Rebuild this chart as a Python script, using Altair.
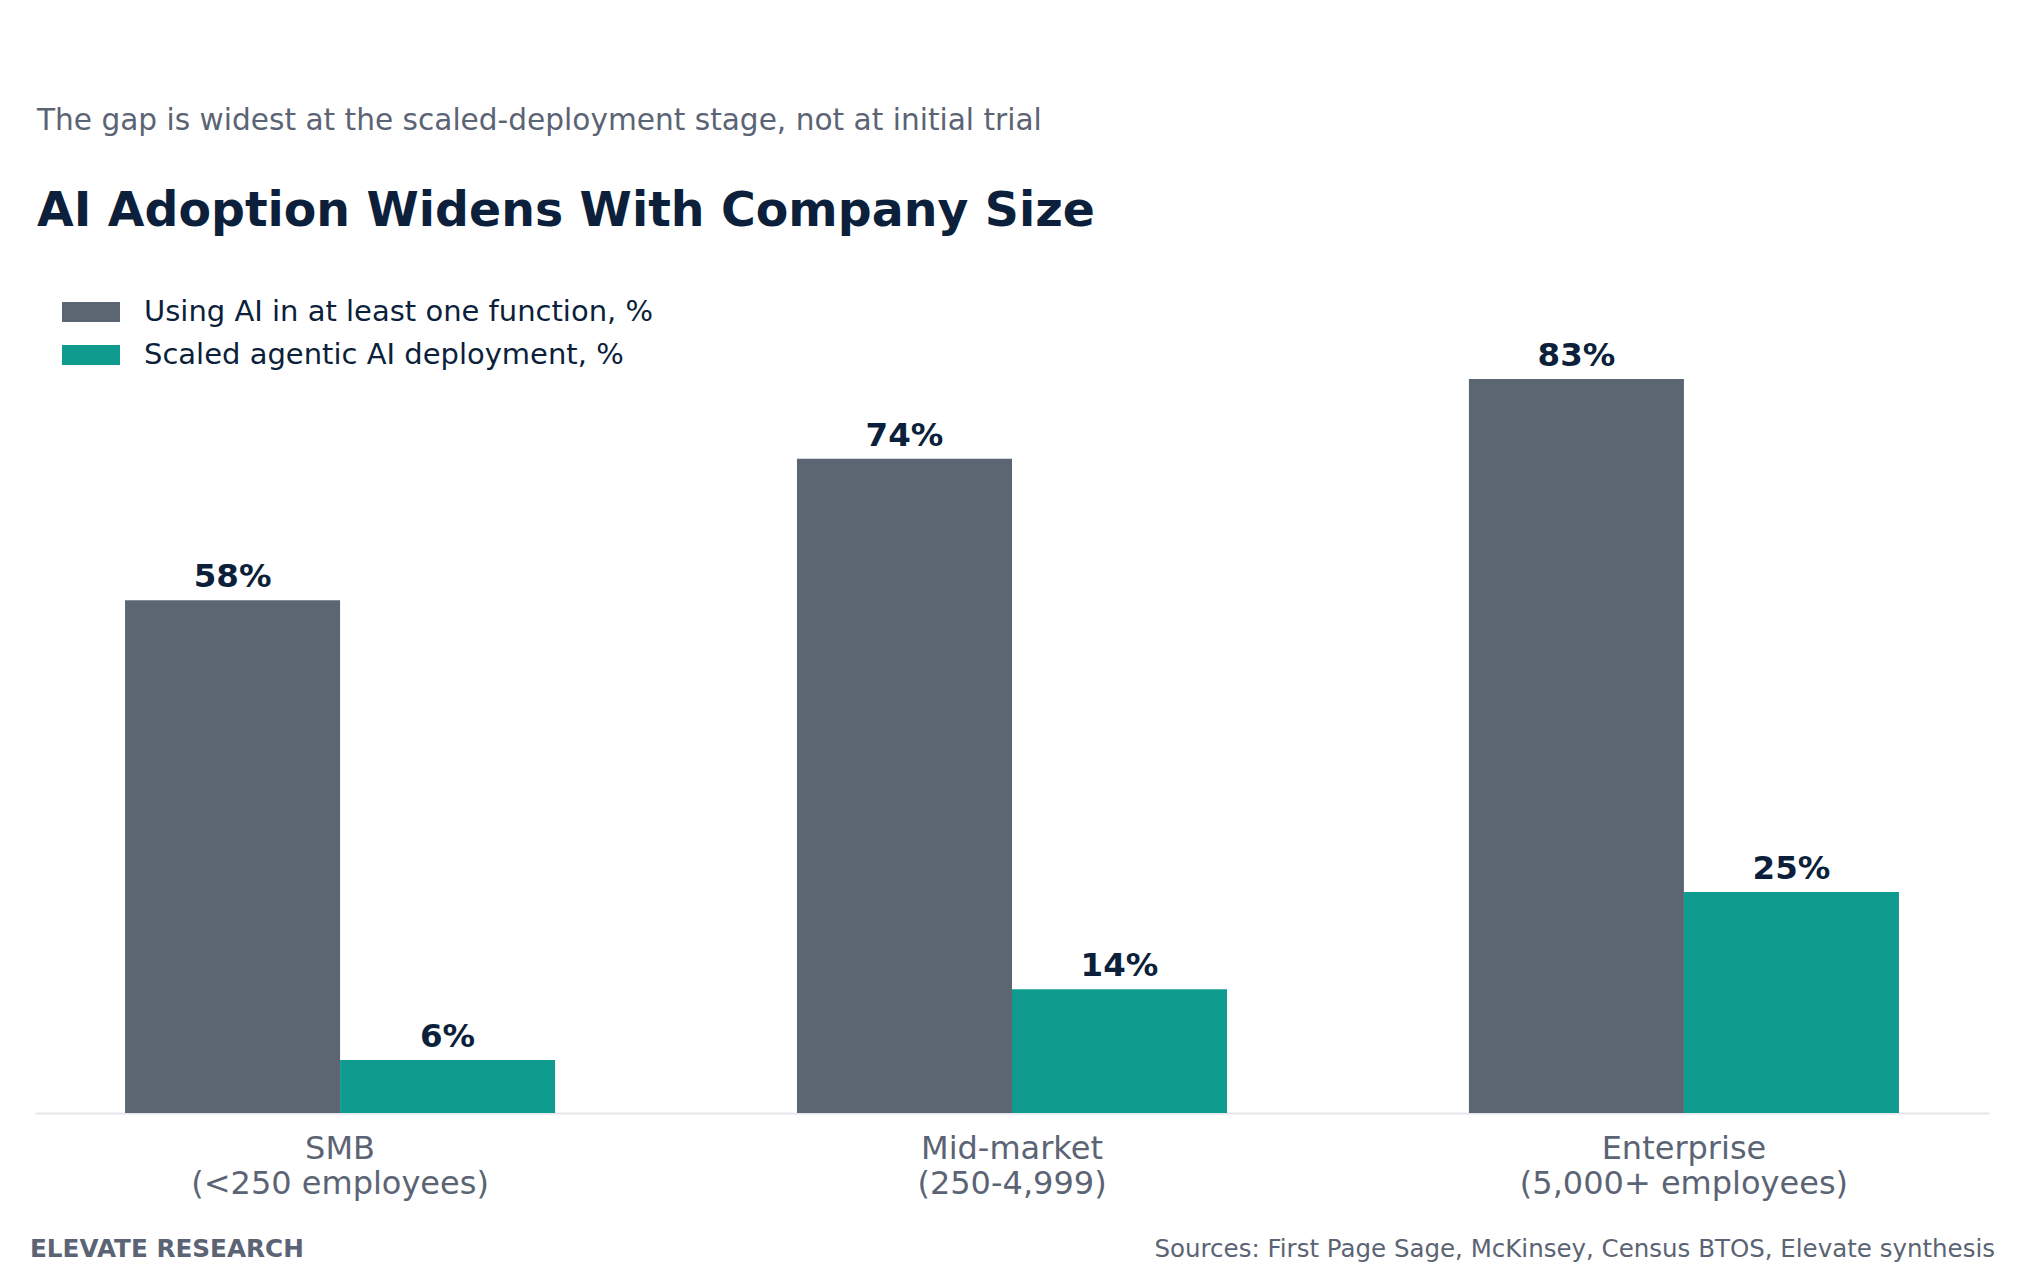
import altair as alt
import pandas as pd

# ---- data ----
segments = ["SMB\n(<250 employees)", "Mid-market\n(250-4,999)", "Enterprise\n(5,000+ employees)"]
series_names = ["Using AI in at least one function, %", "Scaled agentic AI deployment, %"]
using_ai = [58, 74, 83]
scaled_agentic = [6, 14, 25]

subtitle_text = "The gap is widest at the scaled-deployment stage, not at initial trial"
title_text = "AI Adoption Widens With Company Size"
footer_left = "ELEVATE RESEARCH"
footer_right = "Sources: First Page Sage, McKinsey, Census BTOS, Elevate synthesis"

rows = []
for seg, a, b in zip(segments, using_ai, scaled_agentic):
    rows.append({"segment": seg, "series": series_names[0], "value": a, "label": f"{a}%"})
    rows.append({"segment": seg, "series": series_names[1], "value": b, "label": f"{b}%"})
df = pd.DataFrame(rows)

GRAY = "#5c6572"
TEAL = "#0f9c8e"
NAVY = "#0c1f3b"
MUTED = "#5b6474"
FONT = "DejaVu Sans"

base = alt.Chart(df).encode(
    x=alt.X(
        "segment:N",
        sort=segments,
        scale=alt.Scale(paddingInner=0.36, paddingOuter=0.134),
        axis=alt.Axis(
            title=None,
            labelExpr="split(datum.label, '\\n')",
            labelAngle=0,
            labelFont=FONT,
            labelFontSize=32,
            labelColor=MUTED,
            labelLineHeight=35,
            labelPadding=20,
            labelLimit=1000,
            ticks=False,
            domainColor="#e3e7ec",
            domainWidth=2,
        ),
    ),
    xOffset=alt.XOffset("series:N", sort=series_names,
                        scale=alt.Scale(paddingInner=0, paddingOuter=0)),
    y=alt.Y("value:Q", scale=alt.Scale(domain=[0, 95]), axis=None),
)

bars = base.mark_bar().encode(
    color=alt.Color(
        "series:N",
        sort=series_names,
        scale=alt.Scale(domain=series_names, range=[GRAY, TEAL]),
        legend=alt.Legend(
            title=None,
            orient="none",
            legendX=27,
            legendY=24,
            symbolType="M-1,-0.345L1,-0.345L1,0.345L-1,0.345Z",
            symbolSize=3364,
            symbolStrokeWidth=0,
            labelFont=FONT,
            labelFontSize=29,
            labelColor=NAVY,
            labelOffset=24,
            labelLimit=1000,
            clipHeight=30,
            rowPadding=13,
            padding=0,
        ),
    )
)

labels = base.mark_text(
    font=FONT, fontSize=32.5, fontWeight="bold", color=NAVY,
    baseline="alphabetic", dy=-13,
).encode(text="label:N")

foot_l = alt.Chart(pd.DataFrame({"t": [footer_left]})).mark_text(
    font=FONT, fontSize=24.7, fontWeight="bold", color=MUTED, align="left", baseline="alphabetic"
).encode(x=alt.value(-5), y=alt.value(984), text="t:N")

foot_r = alt.Chart(pd.DataFrame({"t": [footer_right]})).mark_text(
    font=FONT, fontSize=24.5, color=MUTED, align="right", baseline="alphabetic"
).encode(x=alt.value(1960), y=alt.value(984), text="t:N")

chart = alt.layer(bars, labels, foot_l, foot_r).properties(
    width=1954,
    height=840,
    padding={"left": 27, "top": 265, "right": 20, "bottom": 157},
    autosize=alt.AutoSizeParams(type="none"),
    background="white",
    title=alt.TitleParams(
        text=subtitle_text,
        subtitle=title_text,
        anchor="start",
        frame="group",
        dx=2,
        font=FONT,
        fontSize=29.6,
        fontWeight="normal",
        color=MUTED,
        subtitleFont=FONT,
        subtitleFontSize=47.4,
        subtitleFontWeight="bold",
        subtitleColor=NAVY,
        subtitlePadding=52,
        offset=37,
    ),
).configure_view(stroke=None)

chart.save("out.html", embed_options={"renderer": "svg", "actions": False})
